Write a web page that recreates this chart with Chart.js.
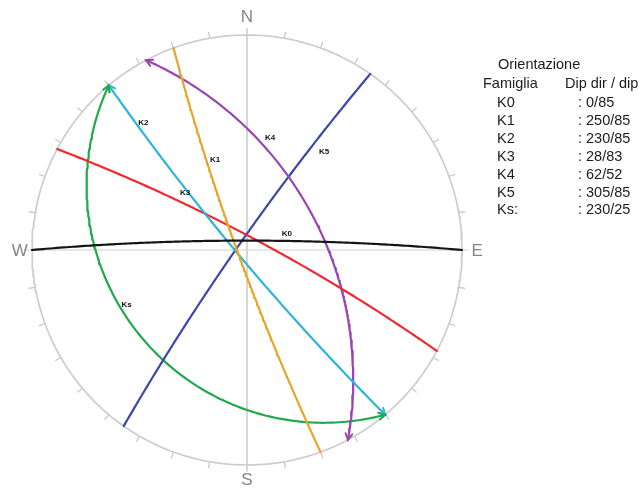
<!DOCTYPE html>
<html>
<head>
<meta charset="utf-8">
<script src="https://cdn.jsdelivr.net/npm/chart.js@4/dist/chart.umd.min.js"></script>
<style>
  html, body { margin: 0; padding: 0; background: #fff; }
  #wrap { position: relative; width: 643px; height: 488px; overflow: hidden; }
  #c { position: absolute; left: 0; top: 0; }
  .t { position: absolute; font-family: "Liberation Sans", Arial, Helvetica, sans-serif;
       font-size: 14.5px; line-height: 16px; color: #1c1c1c; white-space: nowrap; }
</style>
</head>
<body>
<div id="wrap">
  <canvas id="c" width="643" height="488"></canvas>
  <div id="table"></div>
</div>
<script>
// Discontinuity families: dip direction / dip (degrees)
const families   = ['K0', 'K1', 'K2', 'K3', 'K4', 'K5', 'Ks'];
const tableNames = ['K0', 'K1', 'K2', 'K3', 'K4', 'K5', 'Ks:'];
const dipDirs    = [0, 250, 230, 28, 62, 305, 230];
const dips       = [85, 85, 85, 83, 52, 85, 25];
const cardinals  = ['N', 'E', 'S', 'W'];

// Styling
const colors = ['#151515', '#E8A52A', '#2CB4DC', '#EE2A30', '#9A45B2', '#3B48A8', '#21A94D'];
const arrowed = [false, false, true, false, true, false, true];
// where each name sits along its great circle (angle in the plane, 0-180) and a small pixel nudge
const labelTheta  = [111, 138, 167, 47, 53, 148, 104];
const labelNudge  = [[0, -7], [8, -3], [9, 2], [8, -8], [3, -12], [14, 3], [6, -3]];

// Net geometry on the page
const W = 643, H = 488, CX = 247, CY = 250, R = 215;

const D2R = Math.PI / 180;

// Lower-hemisphere equal-angle (Wulff) projection of a unit vector (east, north, down)
function project(e, n, d) { return { x: e / (1 + d), y: n / (1 + d) }; }

function planePoint(dd, dip, theta) {
  const st = (dd - 90) * D2R, a = dd * D2R, dp = dip * D2R, t = theta * D2R;
  const s = [Math.sin(st), Math.cos(st), 0];
  const v = [Math.cos(dp) * Math.sin(a), Math.cos(dp) * Math.cos(a), Math.sin(dp)];
  const c = Math.cos(t), sn = Math.sin(t);
  return project(c * s[0] + sn * v[0], c * s[1] + sn * v[1], c * s[2] + sn * v[2]);
}

function greatCircle(dd, dip) {
  const pts = [];
  for (let th = 0; th <= 180.0001; th += 1) pts.push(planePoint(dd, dip, th));
  return pts;
}

const curves = families.map((f, i) => greatCircle(dipDirs[i], dips[i]));

// Primitive circle
const rim = [];
for (let a = 0; a <= 360; a += 1) rim.push({ x: Math.sin(a * D2R), y: Math.cos(a * D2R) });

// 10-degree ticks outside the rim and the N-S / E-W cross
const TICK = 1.03;
const marks = [];
for (let a = 10; a < 360; a += 10) {
  if (a % 90 === 0) continue;
  const sx = Math.sin(a * D2R), sy = Math.cos(a * D2R);
  marks.push({ x: sx, y: sy }, { x: sx * TICK, y: sy * TICK }, { x: null, y: null });
}
const cross = [
  { x: 0, y: TICK }, { x: 0, y: -TICK }, { x: null, y: null },
  { x: -TICK, y: 0 }, { x: TICK, y: 0 }
];

const datasets = families.map((f, i) => ({
  label: f,
  data: curves[i],
  showLine: true,
  borderColor: colors[i],
  borderWidth: 2.2,
  borderJoinStyle: 'round',
  borderCapStyle: 'round',
  pointRadius: 0,
  fill: false,
  tension: 0
}));
datasets.push(
  { label: 'rim', data: rim, showLine: true, borderColor: '#cdcdcd', borderWidth: 1.7, pointRadius: 0 },
  { label: 'ticks', data: marks, showLine: true, borderColor: '#c4c4c4', borderWidth: 1.2, pointRadius: 0, spanGaps: false },
  { label: 'cross', data: cross, showLine: true, borderColor: '#d0d0d0', borderWidth: 1, pointRadius: 0, spanGaps: false }
);

const cardinalPos = { N: [0, 1.086], E: [1.07, 0], S: [0, -1.066], W: [-1.057, 0] };

const overlay = {
  id: 'overlay',
  afterDatasetsDraw(chart) {
    const { ctx, scales: { x, y } } = chart;
    const toPx = p => [x.getPixelForValue(p.x), y.getPixelForValue(p.y)];
    ctx.save();

    // arrowheads at both ends of the marked circles
    families.forEach((f, i) => {
      if (!arrowed[i]) return;
      const pts = curves[i];
      const ends = [[pts[pts.length - 1], pts[pts.length - 4]], [pts[0], pts[3]]];
      ctx.strokeStyle = colors[i];
      ctx.lineWidth = 2;
      ctx.lineCap = 'round';
      ends.forEach(([tip, back]) => {
        const [tx, ty] = toPx(tip), [bx, by] = toPx(back);
        const ang = Math.atan2(ty - by, tx - bx);
        const L = 7;
        ctx.beginPath();
        ctx.moveTo(tx - L * Math.cos(ang - 0.5), ty - L * Math.sin(ang - 0.5));
        ctx.lineTo(tx, ty);
        ctx.lineTo(tx - L * Math.cos(ang + 0.5), ty - L * Math.sin(ang + 0.5));
        ctx.stroke();
      });
    });

    // family names on their circles
    ctx.fillStyle = '#111';
    ctx.font = 'bold 8px "Liberation Sans", Arial, sans-serif';
    ctx.textAlign = 'center';
    ctx.textBaseline = 'middle';
    families.forEach((f, i) => {
      const p = planePoint(dipDirs[i], dips[i], labelTheta[i]);
      const [px, py] = toPx(p);
      ctx.fillText(f, px + labelNudge[i][0], py + labelNudge[i][1]);
    });

    // compass letters
    ctx.fillStyle = '#858585';
    ctx.font = '17px "Liberation Sans", Arial, sans-serif';
    cardinals.forEach(c => {
      const [px, py] = toPx({ x: cardinalPos[c][0], y: cardinalPos[c][1] });
      ctx.fillText(c, px, py + 1);
    });
    ctx.restore();
  }
};

new Chart(document.getElementById('c'), {
  type: 'scatter',
  data: { datasets },
  options: {
    responsive: false,
    animation: false,
    devicePixelRatio: 1,
    layout: { padding: 0 },
    plugins: { legend: { display: false }, tooltip: { enabled: false }, title: { display: false } },
    scales: {
      x: { type: 'linear', display: false, min: -CX / R, max: (W - CX) / R },
      y: { type: 'linear', display: false, min: -(H - CY) / R, max: CY / R }
    }
  },
  plugins: [overlay]
});

// Orientation table
const table = document.getElementById('table');
function put(text, left, cy) {
  const d = document.createElement('div');
  d.className = 't';
  d.textContent = text;
  d.style.left = left + 'px';
  d.style.top = (cy - 8) + 'px';
  table.appendChild(d);
}
put('Orientazione', 498, 64);
put('Famiglia', 483, 83);
put('Dip dir / dip', 565, 83);
tableNames.forEach((n, i) => {
  const cy = 102 + i * 17.9;
  put(n, 497, cy);
  put(': ' + dipDirs[i] + '/' + dips[i], 578, cy);
});
</script>
</body>
</html>
